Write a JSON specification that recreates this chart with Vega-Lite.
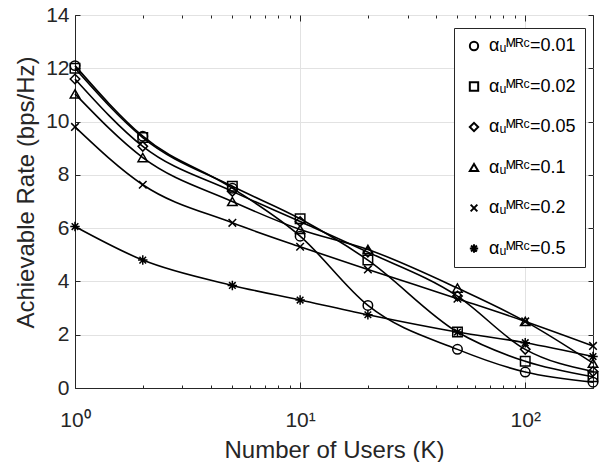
{
  "$schema": "https://vega.github.io/schema/vega-lite/v6.json",
  "width": 518,
  "height": 373,
  "autosize": {"type": "none"},
  "padding": {"left": 75, "top": 15, "right": 9, "bottom": 74},
  "background": "white",
  "config": {
    "view": {"stroke": "#262626", "strokeWidth": 1},
    "font": "Liberation Sans",
    "axis": {"labelFont": "Liberation Sans", "titleFont": "Liberation Sans", "labelColor": "#262626", "titleColor": "#262626", "domainColor": "#262626", "tickColor": "#262626", "gridColor": "#e2e2e2", "labelFontSize": 21, "titleFontSize": 24, "titleFontWeight": "normal", "tickWidth": 1, "domainWidth": 1},
    "legend": {"orient": "none", "legendX": 379, "legendY": 13, "strokeColor": "#262626", "fillColor": "white", "padding": 9, "rowPadding": 22.5, "labelFontSize": 18, "labelFont": "Liberation Sans", "labelColor": "black", "symbolSize": 70, "symbolStrokeWidth": 2, "symbolOffset": 2, "labelOffset": 6}
  },
  "data": {"values": [
    {"K": 1, "rate": 12.1, "alpha": "0.01"},
    {"K": 2, "rate": 9.45, "alpha": "0.01"},
    {"K": 5, "rate": 7.5, "alpha": "0.01"},
    {"K": 10, "rate": 5.7, "alpha": "0.01"},
    {"K": 20, "rate": 3.1, "alpha": "0.01"},
    {"K": 50, "rate": 1.45, "alpha": "0.01"},
    {"K": 100, "rate": 0.6, "alpha": "0.01"},
    {"K": 200, "rate": 0.22, "alpha": "0.01"},
    {"K": 1, "rate": 12.0, "alpha": "0.02"},
    {"K": 2, "rate": 9.4, "alpha": "0.02"},
    {"K": 5, "rate": 7.57, "alpha": "0.02"},
    {"K": 10, "rate": 6.35, "alpha": "0.02"},
    {"K": 20, "rate": 4.8, "alpha": "0.02"},
    {"K": 50, "rate": 2.1, "alpha": "0.02"},
    {"K": 100, "rate": 1.0, "alpha": "0.02"},
    {"K": 200, "rate": 0.42, "alpha": "0.02"},
    {"K": 1, "rate": 11.6, "alpha": "0.05"},
    {"K": 2, "rate": 9.07, "alpha": "0.05"},
    {"K": 5, "rate": 7.38, "alpha": "0.05"},
    {"K": 10, "rate": 6.25, "alpha": "0.05"},
    {"K": 20, "rate": 5.1, "alpha": "0.05"},
    {"K": 50, "rate": 3.45, "alpha": "0.05"},
    {"K": 100, "rate": 1.45, "alpha": "0.05"},
    {"K": 200, "rate": 0.62, "alpha": "0.05"},
    {"K": 1, "rate": 11.04, "alpha": "0.1"},
    {"K": 2, "rate": 8.65, "alpha": "0.1"},
    {"K": 5, "rate": 7.0, "alpha": "0.1"},
    {"K": 10, "rate": 5.95, "alpha": "0.1"},
    {"K": 20, "rate": 5.2, "alpha": "0.1"},
    {"K": 50, "rate": 3.75, "alpha": "0.1"},
    {"K": 100, "rate": 2.5, "alpha": "0.1"},
    {"K": 200, "rate": 0.93, "alpha": "0.1"},
    {"K": 1, "rate": 9.8, "alpha": "0.2"},
    {"K": 2, "rate": 7.63, "alpha": "0.2"},
    {"K": 5, "rate": 6.2, "alpha": "0.2"},
    {"K": 10, "rate": 5.3, "alpha": "0.2"},
    {"K": 20, "rate": 4.45, "alpha": "0.2"},
    {"K": 50, "rate": 3.35, "alpha": "0.2"},
    {"K": 100, "rate": 2.5, "alpha": "0.2"},
    {"K": 200, "rate": 1.58, "alpha": "0.2"},
    {"K": 1, "rate": 6.06, "alpha": "0.5"},
    {"K": 2, "rate": 4.8, "alpha": "0.5"},
    {"K": 5, "rate": 3.85, "alpha": "0.5"},
    {"K": 10, "rate": 3.3, "alpha": "0.5"},
    {"K": 20, "rate": 2.75, "alpha": "0.5"},
    {"K": 50, "rate": 2.1, "alpha": "0.5"},
    {"K": 100, "rate": 1.7, "alpha": "0.5"},
    {"K": 200, "rate": 1.18, "alpha": "0.5"}
  ]},
  "resolve": {"axis": {"x": "independent", "y": "independent"}},
  "layer": [
    {
      "mark": {"type": "line", "interpolate": "monotone", "color": "black", "strokeWidth": 1.6},
      "encoding": {
        "x": {"field": "K", "type": "quantitative", "scale": {"type": "log", "domain": [1, 200], "nice": false},
          "axis": {"orient": "bottom", "title": "Number of Users (K)", "values": [1,2,3,4,5,6,7,8,9,10,20,30,40,50,60,70,80,90,100,200],
            "labelExpr": "datum.value == 1 ? '10⁰' : datum.value == 10 ? '10¹' : datum.value == 100 ? '10²' : ''",
            "grid": true,
            "gridOpacity": {"condition": {"test": "datum.value == 1 || datum.value == 10 || datum.value == 100", "value": 1}, "value": 0},
            "tickSize": {"condition": {"test": "datum.value == 1 || datum.value == 10 || datum.value == 100", "value": -6}, "value": -3},
            "labelPadding": 27, "labelOverlap": false, "labelFlush": false, "titleY": 50, "titleBaseline": "top"}},
        "y": {"field": "rate", "type": "quantitative", "scale": {"domain": [0, 14], "nice": false, "zero": false},
          "axis": {"orient": "left", "title": "Achievable Rate (bps/Hz)", "values": [0,2,4,6,8,10,12,14], "grid": true, "tickSize": -5, "labelPadding": 11, "titleX": -42, "titleY": 177, "titleBaseline": "alphabetic"}},
        "detail": {"field": "alpha"}
      }
    },
    {
      "mark": {"type": "point", "filled": false, "color": "black", "strokeWidth": 1.5, "size": 90, "opacity": 1},
      "encoding": {
        "x": {"field": "K", "type": "quantitative",
          "axis": {"orient": "top", "title": null, "labels": false, "grid": false, "domain": false, "values": [1,2,3,4,5,6,7,8,9,10,20,30,40,50,60,70,80,90,100,200],
            "tickSize": {"condition": {"test": "datum.value == 1 || datum.value == 10 || datum.value == 100", "value": -6}, "value": -3}}},
        "y": {"field": "rate", "type": "quantitative",
          "axis": {"orient": "right", "title": null, "labels": false, "grid": false, "domain": false, "values": [0,2,4,6,8,10,12,14], "tickSize": -5}},
        "shape": {"field": "alpha", "type": "nominal",
          "scale": {"domain": ["0.01", "0.02", "0.05", "0.1", "0.2", "0.5"],
            "range": ["circle", "square", "diamond", "triangle-up", "M-0.8,-0.8L0.8,0.8M-0.8,0.8L0.8,-0.8", "M-1,0L1,0M0,-1L0,1M-0.7,-0.7L0.7,0.7M-0.7,0.7L0.7,-0.7"]},
          "legend": {"title": null, "labelExpr": "'αᵤᴹᴿᶜ=' + datum.label"}}
      }
    }
  ]
}
